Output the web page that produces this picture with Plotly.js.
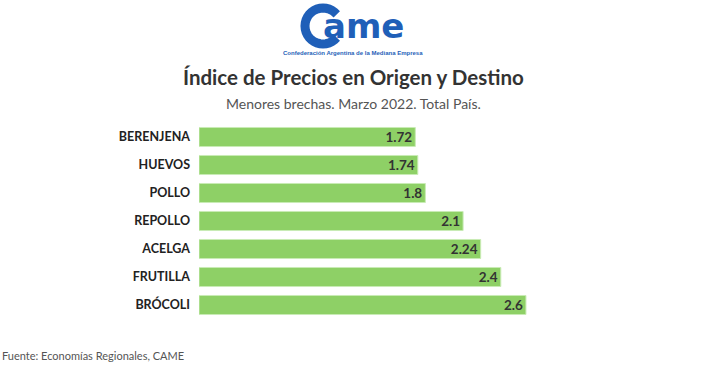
<!DOCTYPE html>
<html>
<head>
<meta charset="utf-8">
<script src="https://cdn.plot.ly/plotly-3.0.1.min.js"></script>
<style>html,body{margin:0;padding:0;background:#fff;}#chart{width:706px;height:365px;}</style>
</head>
<body>
<div id="chart"></div>
<script>
const categories = ["BERENJENA", "HUEVOS", "POLLO", "REPOLLO", "ACELGA", "FRUTILLA", "BRÓCOLI"];
const values = [1.72, 1.74, 1.8, 2.1, 2.24, 2.4, 2.6];
const valueLabels = ["1.72", "1.74", "1.8", "2.1", "2.24", "2.4", "2.6"];

const W = 706, H = 365;
const mL = 199, mR = 4, mT = 123, mB = 46;
const pw = W - mL - mR, ph = H - mT - mB;
const px = x => (x - mL) / pw;
const py = y => (H - mB - y) / ph;

// logo C arc
const cx = 323, cy = 26, r = 18;
let pts = [];
for (let a = 40; a <= 320; a += 10) {
  const t = a * Math.PI / 180;
  pts.push([px(cx + r * Math.cos(t)), py(cy - r * Math.sin(t))]);
}
const arcPath = "M" + pts.map(p => p[0].toFixed(4) + "," + p[1].toFixed(4)).join(" L");

const trace = {
  type: "bar",
  orientation: "h",
  y: categories,
  x: values,
  text: valueLabels,
  textposition: "inside",
  insidetextanchor: "end",
  constraintext: "none",
  textangle: 0,
  textfont: {family: "Lato, 'Open Sans', sans-serif", size: 13.5, color: "#333333", weight: "bold"},
  marker: {color: "#8ed066", line: {color: "#c9ebb5", width: 1}},
  hoverinfo: "none",
  cliponaxis: false
};

const layout = {
  width: W, height: H,
  margin: {l: mL, r: mR, t: mT, b: mB, pad: 0},
  paper_bgcolor: "#ffffff",
  plot_bgcolor: "#ffffff",
  showlegend: false,
  bargap: 0.32,
  font: {family: "Lato, 'Open Sans', sans-serif", color: "#333333"},
  xaxis: {range: [0, 4.0], visible: false, fixedrange: true},
  yaxis: {
    type: "category",
    autorange: "reversed",
    showgrid: false, zeroline: false, showline: false,
    ticks: "",
    ticklabelstandoff: 8,
    tickfont: {family: "Lato, 'Open Sans', sans-serif", size: 12.5, color: "#222222", weight: "bold"},
    fixedrange: true
  },
  shapes: [
    {type: "path", xref: "paper", yref: "paper", path: arcPath,
     line: {color: "#1f5fb8", width: 9}, fillcolor: "rgba(0,0,0,0)"}
  ],
  annotations: [
    {text: "ame", xref: "paper", yref: "paper", x: px(363), y: py(26), xanchor: "center", yanchor: "middle",
     showarrow: false, font: {family: "'DejaVu Sans', sans-serif", size: 34, color: "#1f5fb8", weight: "bold"}},
    {text: "Confederación Argentina de la Mediana Empresa", xref: "paper", yref: "paper", x: px(353), y: py(53),
     xanchor: "center", yanchor: "middle", showarrow: false,
     font: {family: "'Liberation Sans', sans-serif", size: 6, color: "#1f5fb8", weight: "bold"}},
    {text: "<b>Índice de Precios en Origen y Destino</b>", xref: "paper", yref: "paper", x: px(353), y: py(77),
     xanchor: "center", yanchor: "middle", showarrow: false,
     font: {family: "Lato, 'Open Sans', sans-serif", size: 20.5, color: "#333333"}},
    {text: "Menores brechas. Marzo 2022. Total País.", xref: "paper", yref: "paper", x: px(353), y: py(103),
     xanchor: "center", yanchor: "middle", showarrow: false,
     font: {family: "Lato, 'Open Sans', sans-serif", size: 14, color: "#555555"}},
    {text: "Fuente: Economías Regionales, CAME", xref: "paper", yref: "paper", x: px(0), y: py(355),
     xanchor: "left", yanchor: "middle", showarrow: false,
     font: {family: "Lato, 'Open Sans', sans-serif", size: 11, color: "#555555"}}
  ]
};

Plotly.newPlot("chart", [trace], layout, {displayModeBar: false, staticPlot: true});
</script>
</body>
</html>
